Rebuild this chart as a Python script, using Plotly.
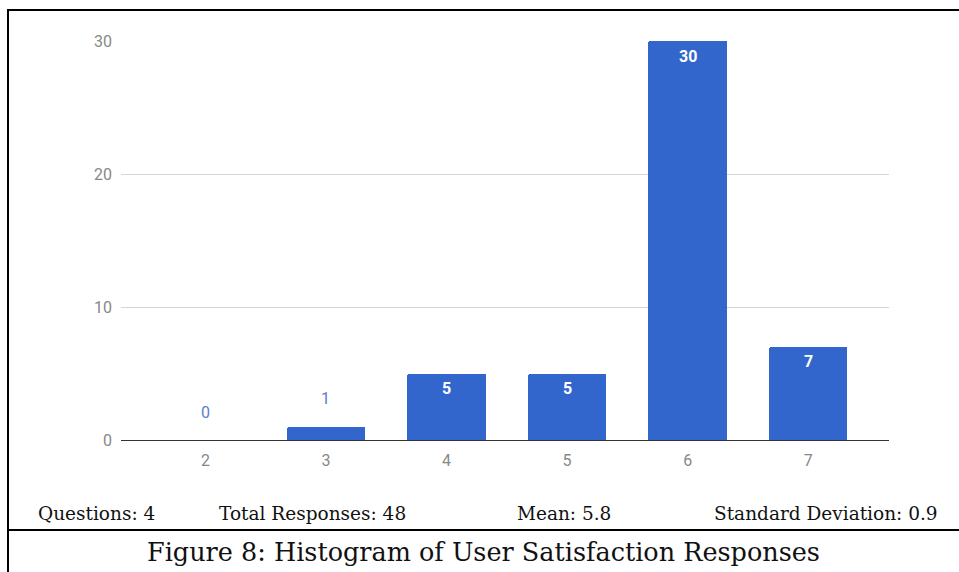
import plotly.graph_objects as go

# Histogram data: satisfaction rating -> number of responses
ratings = [2, 3, 4, 5, 6, 7]
counts = [0, 1, 5, 5, 30, 7]
y_ticks = [0, 10, 20, 30]

stats_labels = ["Questions: 4", "Total Responses: 48", "Mean: 5.8", "Standard Deviation: 0.9"]
caption = "Figure 8: Histogram of User Satisfaction Responses"

W, H = 959, 572
L, R, T, B = 121, 70, 41, 132
PW, PH = W - L - R, H - T - B

BAR_COLOR = "#3366cc"
SANS = "Roboto, Arial, 'Liberation Sans', sans-serif"
SERIF = "Georgia, 'DejaVu Serif', serif"


def px_x(px):
    return (px - L) / PW


def px_y(py):
    return (H - B - py) / PH


fig = go.Figure(
    go.Bar(
        x=ratings,
        y=counts,
        width=0.65,
        marker=dict(color=BAR_COLOR, line=dict(width=0), cornerradius=2),
        hoverinfo="x+y",
    )
)

# value labels: inside the top of tall bars, above short ones
annotations = []
for r, c in zip(ratings, counts):
    inside = c >= 3
    annotations.append(dict(
        x=r, y=c, xref="x", yref="y", text=str(c), showarrow=False,
        yanchor="middle", yshift=-15 if inside else 28,
        font=dict(family=SANS, size=16, color="white" if inside else "#5a80cf",
                  weight="bold" if inside else "normal"),
    ))

# summary line under the chart
stats_x = [36, 217, 515, 712]
for txt, xp in zip(stats_labels, stats_x):
    annotations.append(dict(
        x=px_x(xp), y=px_y(513), xref="paper", yref="paper", text=txt,
        showarrow=False, xanchor="left", yanchor="middle",
        font=dict(family=SERIF, size=18.5, color="#111"),
    ))

annotations.append(dict(
    x=px_x(483), y=px_y(552), xref="paper", yref="paper", text=caption,
    showarrow=False, xanchor="center", yanchor="middle",
    font=dict(family=SERIF, size=25.5, color="#111"),
))

# frame lines around the figure and the caption separator
frame = dict(color="black", width=2)
shapes = [
    dict(type="line", xref="paper", yref="paper", x0=px_x(7), x1=px_x(965), y0=px_y(10), y1=px_y(10), line=frame),
    dict(type="line", xref="paper", yref="paper", x0=px_x(8), x1=px_x(8), y0=px_y(9), y1=px_y(575), line=frame),
    dict(type="line", xref="paper", yref="paper", x0=px_x(7), x1=px_x(965), y0=px_y(530), y1=px_y(530), line=frame),
]

fig.update_layout(
    width=W, height=H,
    margin=dict(l=L, r=R, t=T, b=B, autoexpand=False),
    paper_bgcolor="white", plot_bgcolor="white",
    showlegend=False,
    bargap=0,
    annotations=annotations,
    shapes=shapes,
    font=dict(family=SANS),
)

fig.update_xaxes(
    range=[1.3, 7.67],
    tickvals=ratings, ticktext=[str(r) for r in ratings],
    showgrid=False, zeroline=False,
    showline=True, linecolor="#333333", linewidth=1,
    ticks="", ticklabelstandoff=6,
    tickfont=dict(family=SANS, size=16, color="#888888"),
)

fig.update_yaxes(
    range=[0, 30],
    tickvals=y_ticks,
    showgrid=True, gridcolor="#d6d6d6", gridwidth=1,
    zeroline=False, showline=False,
    ticks="", ticklabelstandoff=8,
    tickfont=dict(family=SANS, size=16, color="#888888"),
)

fig.write_html("out.html")
